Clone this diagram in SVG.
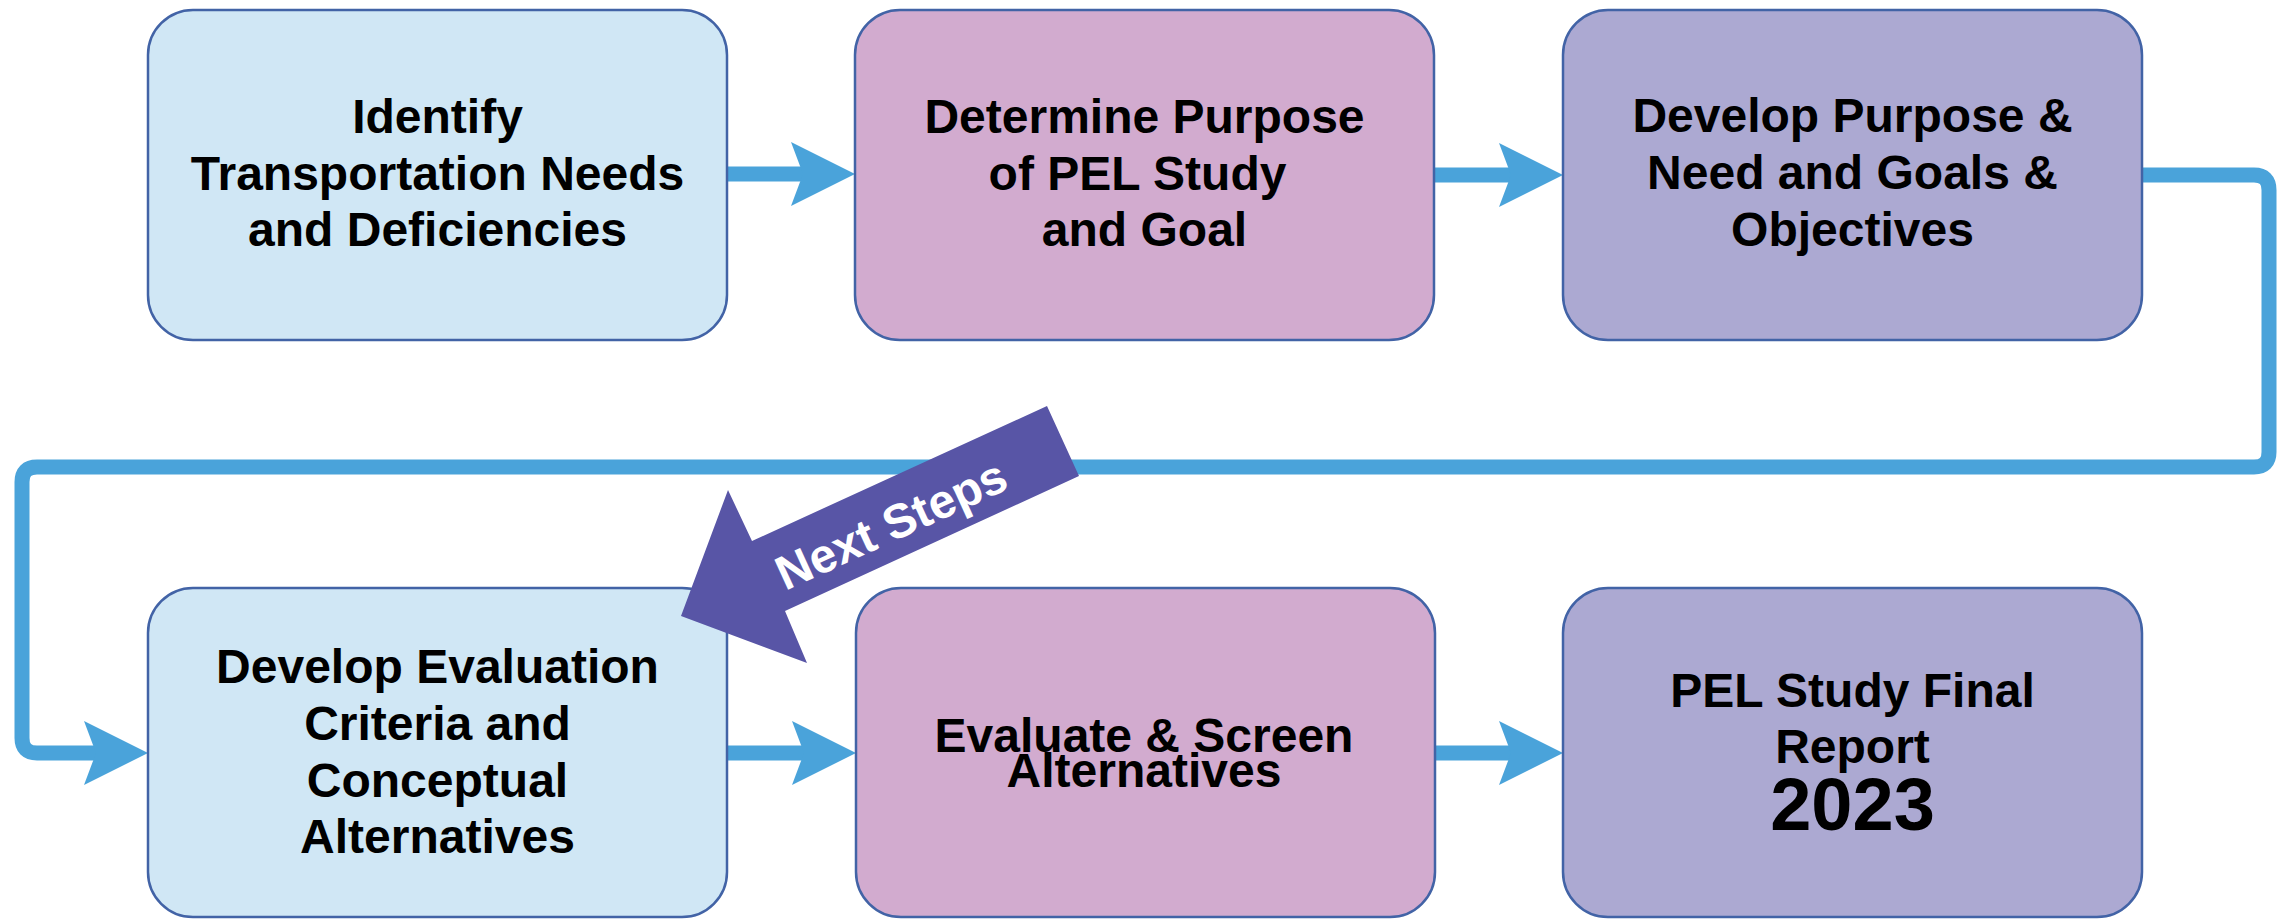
<svg xmlns="http://www.w3.org/2000/svg" width="2289" height="920" viewBox="0 0 2289 920">
<style>
.box{stroke:#4263A6;stroke-width:2.5}
.b1{fill:#D0E7F5}
.b2{fill:#D2ABCF}
.b3{fill:#ACA9D2}
.t{font-family:"Liberation Sans",Arial,sans-serif;font-weight:bold;font-size:48px;fill:#000;text-anchor:middle}
.big{font-size:74px}
.conn{fill:none;stroke:#4AA3DA;stroke-width:15}
.ns{fill:#5855A6}
.nst{font-family:"Liberation Sans",Arial,sans-serif;font-weight:bold;font-size:48px;fill:#FFFFFF;text-anchor:middle}
</style>
<defs>
<marker id="ah" viewBox="0 0 64 64" refX="12" refY="32" markerWidth="64" markerHeight="64" markerUnits="userSpaceOnUse" orient="auto">
<path d="M0 0 L64 32 L0 64 L12 32 Z" fill="#4AA3DA"/>
</marker>
</defs>
<rect width="2289" height="920" fill="#FFFFFF"/>
<g id="connectors">
<path class="conn" d="M727 174 H803" marker-end="url(#ah)"/>
<path class="conn" d="M1434 175 H1511" marker-end="url(#ah)"/>
<path class="conn" d="M2142 175 H2254 Q2269 175 2269 190 V452 Q2269 467 2254 467 H37 Q22 467 22 482 V738 Q22 753 37 753 H96" marker-end="url(#ah)"/>
<path class="conn" d="M727 753 H804" marker-end="url(#ah)"/>
<path class="conn" d="M1435 753 H1511" marker-end="url(#ah)"/>
</g>
<g id="node1">
<rect class="box b1" x="148" y="10" width="579" height="330" rx="45" ry="45"/>
<text class="t" x="437.5" y="133">Identify</text>
<text class="t" x="437.5" y="190">Transportation Needs</text>
<text class="t" x="437.5" y="246">and Deficiencies</text>
</g>
<g id="node2">
<rect class="box b2" x="855" y="10" width="579" height="330" rx="45" ry="45"/>
<text class="t" x="1144.5" y="133">Determine Purpose</text>
<text class="t" x="1137.5" y="190">of PEL Study</text>
<text class="t" x="1144.5" y="246">and Goal</text>
</g>
<g id="node3">
<rect class="box b3" x="1563" y="10" width="579" height="330" rx="45" ry="45"/>
<text class="t" x="1852.5" y="132">Develop Purpose &amp;</text>
<text class="t" x="1852.5" y="189">Need and Goals &amp;</text>
<text class="t" x="1852.5" y="246">Objectives</text>
</g>
<g id="node4">
<rect class="box b1" x="148" y="588" width="579" height="329" rx="45" ry="45"/>
<text class="t" x="437.5" y="683">Develop Evaluation</text>
<text class="t" x="437.5" y="740">Criteria and</text>
<text class="t" x="437.5" y="797">Conceptual</text>
<text class="t" x="437.5" y="853">Alternatives</text>
</g>
<g id="node5">
<rect class="box b2" x="856" y="588" width="579" height="329" rx="45" ry="45"/>
<text class="t" x="1144" y="751.5">Evaluate &amp; Screen</text>
<text class="t" x="1144" y="786.5">Alternatives</text>
</g>
<g id="node6">
<rect class="box b3" x="1563" y="588" width="579" height="329" rx="45" ry="45"/>
<text class="t" x="1852.5" y="707">PEL Study Final</text>
<text class="t" x="1852.5" y="763">Report</text>
<text class="t big" x="1852.5" y="830">2023</text>
</g>
<g id="next-steps">
<polygon class="ns" points="681,616 728,490 752,541 1047,406 1079,476 785,611 807,663"/>
<text class="nst" transform="translate(891,524) rotate(-24.6)" x="0" y="17">Next Steps</text>
</g>
</svg>
